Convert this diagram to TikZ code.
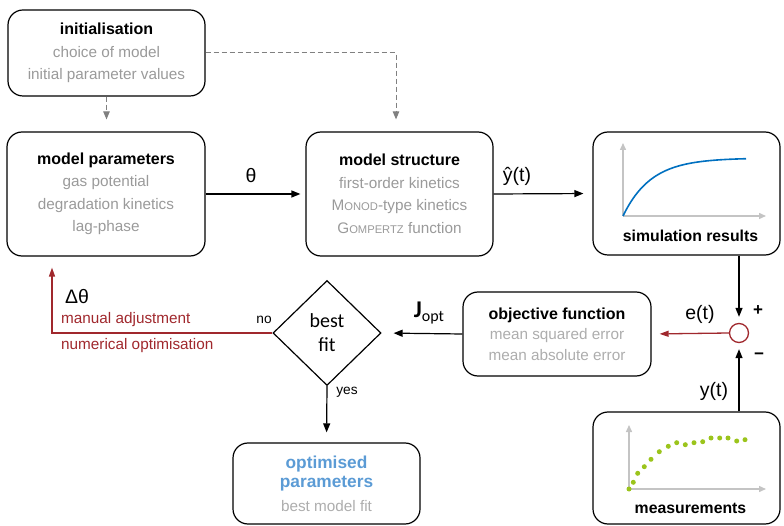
\documentclass[tikz,border=0pt]{standalone}
\usepackage{fontspec}
\setmainfont{Liberation Sans}
\newfontfamily\carlito{Carlito}
\usetikzlibrary{arrows.meta,shapes.geometric,calc}
\definecolor{txtgray}{HTML}{9A9A9A}
\definecolor{txtlight}{HTML}{ADADAD}
\definecolor{dashgray}{HTML}{808080}
\definecolor{axisgray}{HTML}{C4C4C4}
\definecolor{darkred}{HTML}{A0282D}
\definecolor{curveblue}{RGB}{0,112,192}
\definecolor{dotgreen}{RGB}{155,196,28}
\definecolor{optblue}{RGB}{91,155,213}
\newcommand\bxtitle[1]{{\fontsize{16}{22.5}\selectfont\bfseries #1}}
\newcommand\smcp[1]{{\fontsize{11.2}{22.5}\selectfont #1}}
\newcommand\optline[1]{{\color{optblue}\fontsize{17.3}{19}\selectfont\bfseries #1}}
\begin{document}
\begin{tikzpicture}[x=1pt,y=-1pt,
  box/.style={draw, line width=1.2pt, rounded corners=15pt, align=center, inner sep=0pt,
    font=\fontsize{15.3}{22.5}\selectfont, text=txtgray},
  dasharrow/.style={draw=dashgray, line width=1pt, dash pattern=on 5pt off 3pt,
    -{Triangle[length=8pt,width=6.5pt]}, color=dashgray},
  blackarrow/.style={draw=black, line width=1.2pt, -{Triangle[length=9pt,width=7pt]}},
  redarrow/.style={draw=darkred, line width=1.3pt, -{Triangle[length=9pt,width=6pt]}},
  mathlbl/.style={font=\fontsize{19.5}{24}\selectfont, inner sep=0pt},
  smalllbl/.style={font=\fontsize{13.7}{16}\selectfont, inner sep=0pt},
  redlbl/.style={font=\fontsize{15.3}{18}\selectfont, text=darkred, inner sep=0pt, anchor=west},
  axis/.style={draw=axisgray, line width=1.4pt, -{Triangle[length=7pt,width=6pt]}}
]
\useasboundingbox (0,0) rectangle (784,526);

% boxes
\node[box, minimum width=197pt, minimum height=86pt] (init) at (106.5,53)
  {\textcolor{black}{\bxtitle{initialisation}}\\ choice of model\\ initial parameter values};
\node[box, minimum width=198pt, minimum height=124pt] (params) at (106,194)
  {\textcolor{black}{\bxtitle{model parameters}}\\ gas potential\\ degradation kinetics\\ lag-phase};
\node[box, minimum width=187pt, minimum height=124pt] (struct) at (399.5,194)
  {\textcolor{black}{\bxtitle{model structure}}\\ first-order kinetics\\ M\smcp{ONOD}-type kinetics\\ G\smcp{OMPERTZ} function};
\node[box, minimum width=187pt, minimum height=123pt] (sim) at (686.5,193.5) {};
\node[font=\fontsize{15.8}{18}\selectfont\bfseries, inner sep=0pt] (simlbl) at (690.5,236) {simulation results};
\node[box, minimum width=188pt, minimum height=84pt, text=txtlight] (obj) at (557,334)
  {\textcolor{black}{\bxtitle{objective function}}\\[-2pt] mean squared error\\[-2pt] mean absolute error};
\node[diamond, draw, line width=1.2pt, minimum width=108pt, minimum height=105pt, inner sep=0pt,
  align=center, font=\carlito\fontsize{20}{24}\selectfont] (dia) at (327,333) {best\\ fit};
\node[box, minimum width=187pt, minimum height=81pt, text=txtlight] (opt) at (326.5,483.5)
  {\optline{optimised}\\[-3pt] \optline{parameters}\\[1pt] best model fit};
\node[box, minimum width=187pt, minimum height=112pt] (meas) at (686.5,468) {};
\node[font=\fontsize{15.8}{18}\selectfont\bfseries, inner sep=0pt] (measlbl) at (690.5,508) {measurements};
\node[circle, draw=darkred, line width=1.3pt, minimum size=19pt, inner sep=0pt] (circ) at (739,333) {};

% plots
\draw[axis] (623,216) -- (623,143);
\draw[axis] (623,216) -- (766,216);
\draw[curveblue, line width=1.6pt, domain=0:123, samples=60]
  plot ({623+\x},{216-58*(1-exp(-\x/28))});
\draw[axis] (629,489) -- (629,425);
\draw[axis] (629,489) -- (766,489);
\foreach \px/\py in {629/489, 633.3/482.3, 637.7/473.3, 644.3/466.7, 651/459.3, 659.3/451.7,
  668.3/446.3, 676.7/442.7, 685.3/444.7, 694/442.7, 702.7/441.7, 711/438, 719.7/438,
  728/438, 736.7/441, 745/439.7}
  \fill[dotgreen] (\px,\py) circle (2.5pt);

% dashed arrows
\draw[dasharrow, shorten >=12pt] (init.south) -- (init.south |- params.north);
\draw[dasharrow, shorten >=12pt] (init.east) -| ([xshift=-3.5pt]struct.north);

% main arrows
\draw[blackarrow, shorten >=5pt] (params.east) -- (struct.west);
\draw[blackarrow, shorten >=9pt] (struct.east) -- (sim.west);
\draw[blackarrow, shorten >=6pt] (sim.south -| circ) -- (circ.north);
\draw[blackarrow, shorten >=6pt] (meas.north -| circ) -- (circ.south);
\draw[redarrow, shorten >=8pt] (circ.west) -- (obj.east);
\draw[blackarrow, shorten >=12pt] (obj.west) -- (dia.east);
\draw[redarrow, shorten >=11pt] (dia.west) -| ([xshift=-54pt]params.south);
\draw[blackarrow, shorten >=10pt] (dia.south) -- (opt.north);

% labels
\node[mathlbl] (ltheta) at (251,176) {θ};
\node[mathlbl] (lyhat) at (517,176) {ŷ(t)};
\node[mathlbl] (let) at (700,314) {e(t)};
\node[mathlbl] (lyt) at (714,391) {y(t)};
\node[mathlbl] (ldtheta) at (77,297) {Δθ};
\node[inner sep=0pt] (ljopt) at (429,313) {{\carlito\fontsize{24}{26}\selectfont\bfseries J}\raisebox{-3.5pt}{\carlito\fontsize{16}{18}\selectfont opt}};
\node[font=\fontsize{17}{18}\selectfont\bfseries, inner sep=0pt] (lplus) at (758,311) {+};
\node[font=\fontsize{17}{18}\selectfont\bfseries, inner sep=0pt] (lminus) at (759,356) {\textminus};
\node[smalllbl] (lno) at (264,320) {no};
\node[smalllbl] (lyes) at (347,392) {yes};
\node[redlbl] (lmanual) at (61,320) {manual adjustment};
\node[redlbl] (lnum) at (61,346) {numerical optimisation};
\end{tikzpicture}
\end{document}
